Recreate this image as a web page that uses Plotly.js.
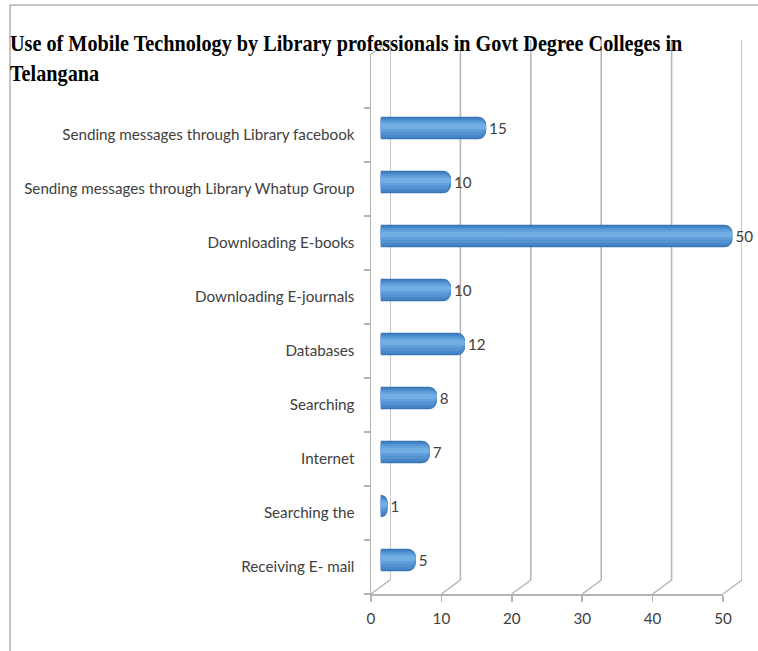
<!DOCTYPE html>
<html>
<head>
<meta charset="utf-8">
<script src="https://cdn.plot.ly/plotly-3.0.1.min.js"></script>
<style>
html,body{margin:0;padding:0;background:#fff;}
#chart{width:758px;height:651px;}
</style>
</head>
<body>
<div id="chart"></div>
<script>
// ---- data (bottom-to-top order, as in the source sheet) ----
const categories = [
  'Receiving E- mail',
  'Searching the',
  'Internet',
  'Searching',
  'Databases',
  'Downloading E-journals',
  'Downloading E-books',
  'Sending messages through Library Whatup Group',
  'Sending messages through Library facebook'
];
const values = [5, 1, 7, 8, 12, 10, 50, 10, 15];
const xTicks = [0, 10, 20, 30, 40, 50];
const titleLines = [
  'Use of Mobile Technology by Library professionals in Govt Degree Colleges in',
  'Telangana'
];

// ---- layout geometry ----
const W = 758, H = 651;
const front = {l: 371, r: 723, t: 54, b: 594};
const depth = {dx: 19, dy: -14};
function plane(f) {
  return {l: front.l + depth.dx * f, r: front.r + depth.dx * f,
          t: front.t + depth.dy * f, b: front.b + depth.dy * f};
}
const mid = plane(0.5), back = plane(1);
const xd = p => [p.l / W, p.r / W];
const yd = p => [1 - p.b / H, 1 - p.t / H];
const xRange = [xTicks[0], xTicks[xTicks.length - 1]];
const yRange = [-0.5, categories.length + 0.5];

const gridColor = '#b4b4b4';
const textColor = '#404040';
const labelFont = {family: 'Lato, "Open Sans", sans-serif', size: 15.2, color: textColor};

function px(p, v) { const d = xd(p); return d[0] + (v - xRange[0]) / (xRange[1] - xRange[0]) * (d[1] - d[0]); }

const shapes = [];
xTicks.forEach(v => {
  shapes.push({type: 'line', xref: 'x3', yref: 'y3 domain', x0: v, x1: v, y0: 0, y1: 1,
               line: {color: gridColor, width: 1.5}, layer: 'below'});
  shapes.push({type: 'line', xref: 'paper', yref: 'paper',
               x0: px(front, v), y0: yd(front)[0], x1: px(back, v), y1: yd(back)[0],
               line: {color: gridColor, width: 1.5}, layer: 'below'});
});
// top edge of the side wall
shapes.push({type: 'line', xref: 'paper', yref: 'paper',
             x0: px(front, xRange[0]), y0: yd(front)[1], x1: px(back, xRange[0]), y1: yd(back)[1],
             line: {color: gridColor, width: 1.5}, layer: 'below'});
// chart border
shapes.push({type: 'line', xref: 'paper', yref: 'paper', x0: 10 / W, x1: 10 / W, y0: 0, y1: 1 - 5 / H,
             line: {color: '#8a8a8a', width: 1}});
shapes.push({type: 'line', xref: 'paper', yref: 'paper', x0: 10 / W, x1: 1, y0: 1 - 5 / H, y1: 1 - 5 / H,
             line: {color: '#8a8a8a', width: 1}});

// cylinder shading bands: [offset, width, colour, corner radius]
const bands = [
  [-0.21, 0.42, '#3b74b2', 8],
  [-0.18, 0.36, '#4786c7', 7],
  [-0.13, 0.28, '#5393d2', 6],
  [-0.07, 0.19, '#61a0db', 5],
  [-0.02, 0.10, '#72ade3', 4]
];

const traces = [
  {type: 'scatter', x: values, y: categories, xaxis: 'x', yaxis: 'y', mode: 'markers',
   marker: {opacity: 0}, hoverinfo: 'skip', showlegend: false},
  {type: 'scatter', x: values, y: categories, xaxis: 'x3', yaxis: 'y3', mode: 'markers',
   marker: {opacity: 0}, hoverinfo: 'skip', showlegend: false}
];
bands.forEach((b, i) => {
  const tr = {type: 'bar', orientation: 'h', x: values, y: categories, xaxis: 'x2', yaxis: 'y2',
              offset: b[0], width: b[1],
              marker: {color: b[2], line: {width: 0}, cornerradius: b[3]},
              hoverinfo: 'skip', showlegend: false};
  if (i === 0) {
    tr.text = values.map(String);
    tr.textposition = 'outside';
    tr.textfont = labelFont;
    tr.cliponaxis = false;
  }
  traces.push(tr);
});

const layout = {
  width: W, height: H, autosize: false,
  margin: {l: 0, r: 0, t: 0, b: 0, pad: 0},
  paper_bgcolor: '#ffffff', plot_bgcolor: 'rgba(0,0,0,0)',
  barmode: 'overlay', showlegend: false,
  title: {text: titleLines.join('<br>'), xref: 'container', yref: 'container',
          x: 10 / W, xanchor: 'left', y: 1 - 51 / H, yanchor: 'top',
          font: {family: '"Liberation Serif", "Times New Roman", serif', size: 23, color: '#000', weight: 700}},
  xaxis: {domain: xd(front), range: xRange, anchor: 'y', tickvals: xTicks,
          ticks: 'outside', ticklen: 6, tickwidth: 1.5, tickcolor: gridColor,
          showline: true, linecolor: gridColor, linewidth: 1.5, ticklabelstandoff: 4,
          showgrid: false, zeroline: false, tickfont: labelFont, fixedrange: true},
  yaxis: {domain: yd(front), type: 'category', range: yRange, anchor: 'x',
          categoryorder: 'array', categoryarray: categories,
          ticks: 'outside', tickson: 'boundaries', ticklen: 6, tickwidth: 1.5, tickcolor: gridColor,
          showline: true, linecolor: gridColor, linewidth: 1.5,
          showgrid: false, zeroline: false, tickfont: labelFont, ticklabelstandoff: 12, fixedrange: true},
  xaxis2: {domain: xd(mid), range: xRange, anchor: 'y2', visible: false, fixedrange: true},
  yaxis2: {domain: yd(mid), type: 'category', range: yRange, anchor: 'x2', visible: false,
           categoryorder: 'array', categoryarray: categories, fixedrange: true},
  xaxis3: {domain: xd(back), range: xRange, anchor: 'y3', visible: false, fixedrange: true},
  yaxis3: {domain: yd(back), type: 'category', range: yRange, anchor: 'x3', visible: false,
           categoryorder: 'array', categoryarray: categories, fixedrange: true},
  shapes: shapes
};

Plotly.newPlot('chart', traces, layout, {displayModeBar: false, staticPlot: true}).then(gd => {
  // condense the title horizontally like the original rendering
  const t = gd.querySelector('.gtitle');
  if (t) {
    const bb = t.getBBox();
    const target = 673;
    const s = target / bb.width;
    const x0 = bb.x;
    t.setAttribute('transform', `translate(${x0},0) scale(${s},1) translate(${-x0},0)`);
  }
});
</script>
</body>
</html>
